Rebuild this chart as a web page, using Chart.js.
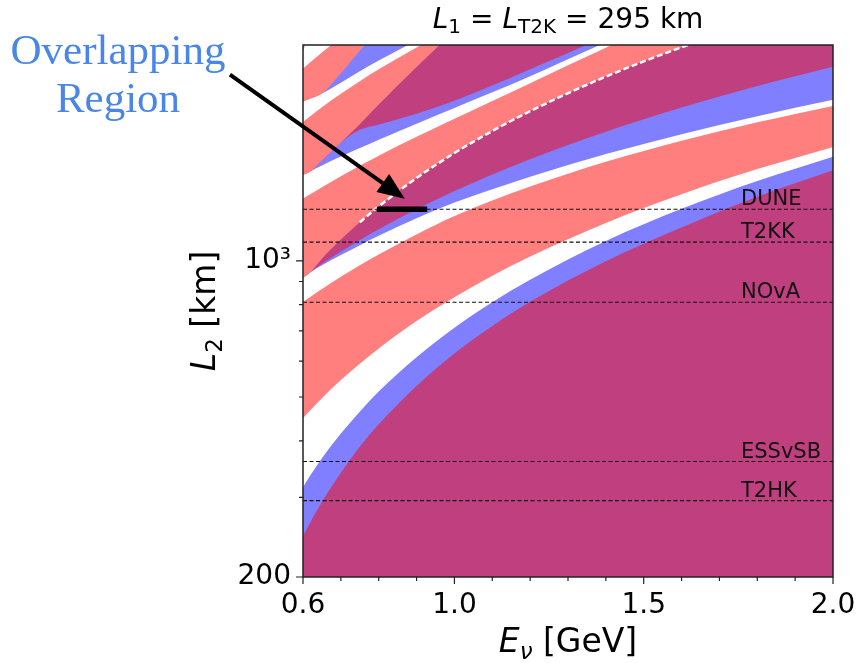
<!DOCTYPE html>
<html><head><meta charset="utf-8">
<script src="https://cdn.jsdelivr.net/npm/chart.js@4.4.0/dist/chart.umd.min.js"></script>
<style>html,body{margin:0;padding:0;background:#fff;}canvas{display:block;}</style>
</head><body>
<canvas id="c" width="862" height="663"></canvas>
<script>
// ---------- data ----------
// neutrino energy grid (GeV) at which every band edge was read
const energy = [0.6, 0.62, 0.65, 0.7, 0.75, 0.8, 0.9, 1.0, 1.1, 1.2, 1.4, 1.6, 1.8, 2.0];
// L2 (km) of each band edge, listed from the bottom of the plot upward
const edge01 = [246, 265, 293, 340, 388, 435, 529, 624, 718, 812, 998, 1185, 1385, 1585];
const edge02 = [316, 336, 366, 415, 464, 514, 612, 711, 810, 908, 1106, 1303, 1501, 1698];
const edge03 = [449, 468, 497, 545, 592, 640, 736, 831, 927, 1022, 1213, 1404, 1595, 1786];
const edge04 = [811, 833, 866, 922, 978, 1033, 1144, 1256, 1360, 1460, 1655, 1842, 2024, 2200];
const edge05 = [917, 945, 978, 1030, 1083, 1136, 1242, 1345, 1440, 1535, 1722, 1905, 2088, 2270];
const edge06 = [917, 945, 985, 1048, 1111, 1174, 1300, 1426, 1552, 1678, 1930, 2182, 2434, 2686];
const edge07 = [917, 945, 1011, 1114, 1217, 1319, 1525, 1731, 1936, 2142, 2554, 2965, 3376, 3788];
const edge08 = [1372, 1405, 1455, 1538, 1622, 1707, 1880, 2060, 2255, 2470, 2960, 3500, 4080, 4700];
const edge09 = [1549, 1578, 1625, 1700, 1776, 1853, 2010, 2178, 2358, 2560, 3040, 3560, 4110, 4720];
const edge10 = [1549, 1578, 1667, 1827, 1948, 2002, 2115, 2260, 2440, 2650, 3130, 3650, 4200, 4780];
const edge11 = [1549, 1578, 1667, 1827, 2005, 2215, 2683, 3212, 3741, 4270, 5328, 6386, 7444, 8502];
const edge12 = [2029, 2091, 2185, 2340, 2496, 2651, 2963, 3274, 3585, 3896, 4519, 5141, 5763, 6386];
const edge13 = [2249, 2284, 2343, 2476, 2624, 2772, 3068, 3365, 3661, 3957, 4550, 5142, 5735, 6328];
const edge14 = [2249, 2284, 2343, 2598, 2912, 3226, 3854, 4482, 5110, 5738, 6993, 8249, 9504, 10760];
const edge15 = [2658, 2750, 2889, 3120, 3351, 3582, 4044, 4506, 4968, 5430, 6354, 7278, 8202, 9126];
const edge16 = [2897, 3309, 3927, 4957, 5987, 7017, 9077, 11137, 13197, 15257, 19377, 23497, 27617, 31737];
const bandEdges = [edge01, edge02, edge03, edge04, edge05, edge06, edge07, edge08,
                   edge09, edge10, edge11, edge12, edge13, edge14, edge15, edge16];

// experiments (dashed reference baselines)
const expNames = ['DUNE', 'T2KK', 'NOvA', 'ESSvSB', 'T2HK'];
const expBaselines = [1300, 1100, 810, 360, 295];
const expLabelE = 1.757;

// marked overlapping segment on the DUNE baseline
const overlapE = [0.795, 0.928];
const overlapL = 1300;

// arrow of the annotation (data coordinates)
const arrowFrom = [0.407, 2580];
const arrowTo = [0.869, 1372];

// ticks
const xMajor = [0.6, 1.0, 1.5, 2.0];
const xMajorLabels = ['0.6', '1.0', '1.5', '2.0'];
const xMinor = [0.7, 0.8, 0.9, 1.1, 1.2, 1.3, 1.4, 1.6, 1.7, 1.8, 1.9];
const yMajor = [200, 1000];
const yMajorLabels = ['200', '10³'];
const yMinor = [300, 400, 500, 600, 700, 800, 900, 2000];

// ---------- styles ----------
const MAG = '#bf3f7f', BLU = '#7f7fff', RED = '#ff7f7f', WHT = '#ffffff';
const layerColors = [BLU, WHT, RED, WHT, BLU, MAG, RED, WHT, BLU, MAG, RED, WHT, BLU, RED, WHT, RED];
const FONT = '"DejaVu Sans", sans-serif';

const datasets = [];
datasets.push({
  data: energy.map(e => ({x: e, y: 200})),
  fill: 'end', backgroundColor: MAG, borderColor: 'transparent', borderWidth: 0,
  pointRadius: 0, tension: 0, order: 100
});
bandEdges.forEach((arr, i) => {
  datasets.push({
    data: energy.map((e, j) => ({x: e, y: arr[j]})),
    fill: 'end', backgroundColor: layerColors[i], borderColor: 'transparent', borderWidth: 0,
    pointRadius: 0, cubicInterpolationMode: 'monotone', order: 99 - i
  });
});
// thin white seam along the upper magenta edge
datasets.push({
  data: energy.slice(4, 13).map((e, j) => ({x: e, y: edge07[j + 4]})),
  fill: false, borderColor: '#ffffff', borderWidth: 2.5, borderDash: [6, 3],
  pointRadius: 0, cubicInterpolationMode: 'monotone', order: 20
});
expBaselines.forEach(L => {
  datasets.push({
    data: [{x: 0.6, y: L}, {x: 2.0, y: L}],
    fill: false, borderColor: '#111', borderWidth: 1.1, borderDash: [4, 2.5],
    pointRadius: 0, order: 5
  });
});
datasets.push({
  data: overlapE.map(e => ({x: e, y: overlapL})),
  fill: false, borderColor: '#000', borderWidth: 5.5, pointRadius: 0, order: 1,
  borderCapStyle: 'butt'
});

function drawRich(ctx, parts, x, y) {
  let w = 0;
  parts.forEach(p => { ctx.font = p.f; w += ctx.measureText(p.t).width + (p.gap || 0); });
  let cx = x - w / 2;
  parts.forEach(p => {
    ctx.font = p.f;
    ctx.fillText(p.t, cx, y + (p.dy || 0));
    cx += ctx.measureText(p.t).width + (p.gap || 0);
  });
}

const decor = {
  id: 'decor',
  afterDatasetsDraw(chart) {
    const {ctx, scales: {x, y}} = chart;
    ctx.save();
    ctx.fillStyle = '#111';
    ctx.font = '21px ' + FONT;
    ctx.textBaseline = 'alphabetic';
    ctx.textAlign = 'left';
    expNames.forEach((n, i) => {
      ctx.fillText(n, x.getPixelForValue(expLabelE), y.getPixelForValue(expBaselines[i]) - 4);
    });
    ctx.restore();
  },
  afterDraw(chart) {
    const {ctx, chartArea: a, scales: {x, y}} = chart;
    ctx.save();
    // frame
    ctx.strokeStyle = '#222';
    ctx.lineWidth = 1.5;
    ctx.strokeRect(a.left, a.top, a.right - a.left, a.bottom - a.top);
    // tick marks
    ctx.lineWidth = 1.2;
    ctx.beginPath();
    xMajor.forEach(v => { const p = x.getPixelForValue(v); ctx.moveTo(p, a.bottom); ctx.lineTo(p, a.bottom + 7); });
    xMinor.forEach(v => { const p = x.getPixelForValue(v); ctx.moveTo(p, a.bottom); ctx.lineTo(p, a.bottom + 4); });
    yMajor.forEach(v => { const p = y.getPixelForValue(v); ctx.moveTo(a.left, p); ctx.lineTo(a.left - 7, p); });
    yMinor.forEach(v => { const p = y.getPixelForValue(v); ctx.moveTo(a.left, p); ctx.lineTo(a.left - 4, p); });
    ctx.stroke();
    // title
    ctx.fillStyle = '#000';
    ctx.textAlign = 'left';
    ctx.textBaseline = 'alphabetic';
    const cx = (a.left + a.right) / 2;
    const T = 28, S = 20;
    drawRich(ctx, [
      {t: 'L', f: 'italic ' + T + 'px ' + FONT},
      {t: '1', f: S + 'px ' + FONT, dy: 5, gap: 9},
      {t: '=', f: T + 'px ' + FONT, gap: 9},
      {t: 'L', f: 'italic ' + T + 'px ' + FONT},
      {t: 'T2K', f: S + 'px ' + FONT, dy: 5, gap: 9},
      {t: '=', f: T + 'px ' + FONT, gap: 9},
      {t: '295 km', f: T + 'px ' + FONT}
    ], cx, 28);
    // x axis title
    const A = 33, AS = 23;
    drawRich(ctx, [
      {t: 'E', f: 'italic ' + A + 'px ' + FONT},
      {t: 'ν', f: 'italic ' + AS + 'px ' + FONT, dy: 7},
      {t: ' [GeV]', f: A + 'px ' + FONT}
    ], cx, 652);
    // y axis title
    ctx.save();
    ctx.translate(215, (a.top + a.bottom) / 2);
    ctx.rotate(-Math.PI / 2);
    drawRich(ctx, [
      {t: 'L', f: 'italic ' + A + 'px ' + FONT},
      {t: '2', f: AS + 'px ' + FONT, dy: 7},
      {t: ' [km]', f: A + 'px ' + FONT}
    ], 0, 0);
    ctx.restore();
    // annotation text
    ctx.fillStyle = '#4a86e8';
    ctx.font = '43px "Liberation Serif", "Times New Roman", serif';
    ctx.textAlign = 'center';
    ctx.fillText('Overlapping', 118, 64);
    ctx.fillText('Region', 118, 112);
    // arrow
    const x0 = x.getPixelForValue(arrowFrom[0]), y0 = y.getPixelForValue(arrowFrom[1]);
    const x1 = x.getPixelForValue(arrowTo[0]), y1 = y.getPixelForValue(arrowTo[1]);
    const ang = Math.atan2(y1 - y0, x1 - x0);
    const hl = 27, hw = 11;
    const bx = x1 - hl * Math.cos(ang), by = y1 - hl * Math.sin(ang);
    ctx.strokeStyle = '#000';
    ctx.lineWidth = 4;
    ctx.beginPath();
    ctx.moveTo(x0, y0);
    ctx.lineTo(bx, by);
    ctx.stroke();
    ctx.fillStyle = '#000';
    ctx.beginPath();
    ctx.moveTo(x1, y1);
    ctx.lineTo(bx + hw * Math.sin(ang), by - hw * Math.cos(ang));
    ctx.lineTo(bx - hw * Math.sin(ang), by + hw * Math.cos(ang));
    ctx.closePath();
    ctx.fill();
    ctx.restore();
  }
};

new Chart(document.getElementById('c'), {
  type: 'line',
  data: {datasets},
  options: {
    responsive: false,
    animation: false,
    devicePixelRatio: 1,
    layout: {padding: {left: 0, right: 29, top: 45, bottom: 0}},
    plugins: {legend: {display: false}, tooltip: {enabled: false}, title: {display: false}},
    scales: {
      x: {
        type: 'linear', min: 0.6, max: 2.0,
        grid: {display: false, drawTicks: false},
        border: {display: false},
        afterBuildTicks: s => { s.ticks = xMajor.map(v => ({value: v})); },
        afterFit: s => { s.height = 86; s.paddingLeft = 0; s.paddingRight = 0; },
        ticks: {
          autoSkip: false, maxRotation: 0, padding: 12, color: '#000',
          font: {family: 'DejaVu Sans', size: 28},
          callback: v => { const i = xMajor.indexOf(v); return i >= 0 ? xMajorLabels[i] : ''; }
        }
      },
      y: {
        type: 'logarithmic', min: 200, max: 3000,
        grid: {display: false, drawTicks: false},
        border: {display: false},
        afterBuildTicks: s => { s.ticks = yMajor.map(v => ({value: v})); },
        afterFit: s => { s.width = 303; s.paddingTop = 0; s.paddingBottom = 0; },
        ticks: {
          autoSkip: false, padding: 12, color: '#000',
          font: {family: 'DejaVu Sans', size: 28},
          callback: v => { const i = yMajor.indexOf(v); return i >= 0 ? yMajorLabels[i] : ''; }
        }
      }
    }
  },
  plugins: [decor]
});
</script>
</body></html>
